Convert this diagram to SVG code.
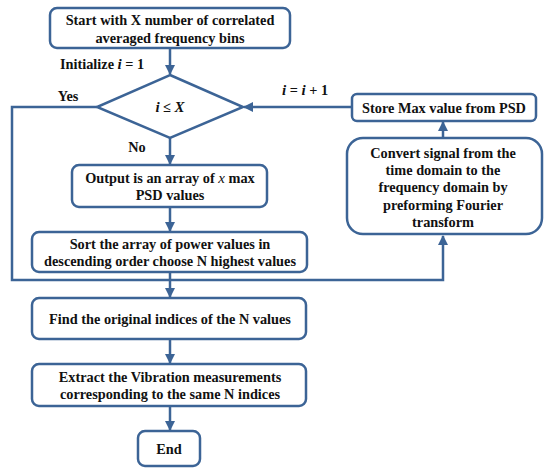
<svg xmlns="http://www.w3.org/2000/svg" width="550" height="474" viewBox="0 0 550 474">
<defs>
<marker id="ah" markerWidth="10" markerHeight="10" viewBox="0 0 10 10" refX="9" refY="5" orient="auto" markerUnits="userSpaceOnUse">
<path d="M0,0 L10,5 L0,10 Z" fill="#3c6496"/>
</marker>
<style>
.box{fill:#fff;stroke:#3c6496;stroke-width:2.5}
.ln{fill:none;stroke:#3c6496;stroke-width:2.5}
text{font-family:"Liberation Serif","Times New Roman",serif;font-weight:bold;font-size:14.3px;fill:#111;text-anchor:middle}
.m{font-style:italic;font-size:15px}
</style>
</defs>
<rect width="550" height="474" fill="#fff"/>
<g id="connectors">
<line class="ln" x1="170" y1="48" x2="170" y2="74" marker-end="url(#ah)"/>
<line class="ln" x1="170" y1="138" x2="170" y2="164" marker-end="url(#ah)"/>
<line class="ln" x1="170" y1="207" x2="170" y2="231" marker-end="url(#ah)"/>
<line class="ln" x1="170" y1="272" x2="170" y2="297" marker-end="url(#ah)"/>
<line class="ln" x1="170" y1="339" x2="170" y2="363" marker-end="url(#ah)"/>
<line class="ln" x1="170" y1="406" x2="170" y2="430" marker-end="url(#ah)"/>
<polyline class="ln" points="97,107 12,107 12,280 443,280 443,236" marker-end="url(#ah)"/>
<line class="ln" x1="443" y1="138" x2="443" y2="122" marker-end="url(#ah)"/>
<line class="ln" x1="352" y1="107" x2="244" y2="107" marker-end="url(#ah)"/>
<text x="60" y="69" style="text-anchor:start">Initialize <tspan class="m">i</tspan> = 1</text>
<text x="68" y="101">Yes</text>
<text x="137" y="152">No</text>
<text x="305" y="95"><tspan class="m">i</tspan> = <tspan class="m">i</tspan> + 1</text>
</g>
<g id="start">
<rect class="box" x="50" y="8" width="240" height="40" rx="7"/>
<text x="170" y="25">Start with X number of correlated</text>
<text x="170" y="43">averaged frequency bins</text>
</g>
<g id="decision">
<polygon class="box" points="170,75 243,107 170,138 97,107"/>
<text x="170" y="112"><tspan class="m">i</tspan> ≤ <tspan class="m">X</tspan></text>
</g>
<g id="output">
<rect class="box" x="72" y="165" width="195" height="42" rx="7"/>
<text x="170" y="183">Output is an array of <tspan class="m" font-weight="normal">x</tspan> max</text>
<text x="170" y="200">PSD values</text>
</g>
<g id="sort">
<rect class="box" x="32" y="232" width="275" height="40" rx="7"/>
<text x="170" y="249">Sort the array of power values in</text>
<text x="170" y="266">descending order choose N highest values</text>
</g>
<g id="find">
<rect class="box" x="32" y="298" width="274" height="41" rx="7"/>
<text x="170" y="324">Find the original indices of the N values</text>
</g>
<g id="extract">
<rect class="box" x="32" y="364" width="274" height="42" rx="7"/>
<text x="170" y="382">Extract the Vibration measurements</text>
<text x="170" y="399">corresponding to the same N indices</text>
</g>
<g id="end">
<rect class="box" x="138" y="431" width="62" height="35" rx="7"/>
<text x="169" y="454">End</text>
</g>
<g id="store">
<rect class="box" x="352" y="94" width="184" height="27" rx="5"/>
<text x="444" y="113">Store Max value from PSD</text>
</g>
<g id="convert">
<rect class="box" x="347" y="138" width="195" height="96" rx="16"/>
<text x="443" y="158">Convert signal from the</text>
<text x="443" y="175">time domain to the</text>
<text x="443" y="192">frequency domain by</text>
<text x="443" y="210">preforming Fourier</text>
<text x="443" y="227">transform</text>
</g>
</svg>
